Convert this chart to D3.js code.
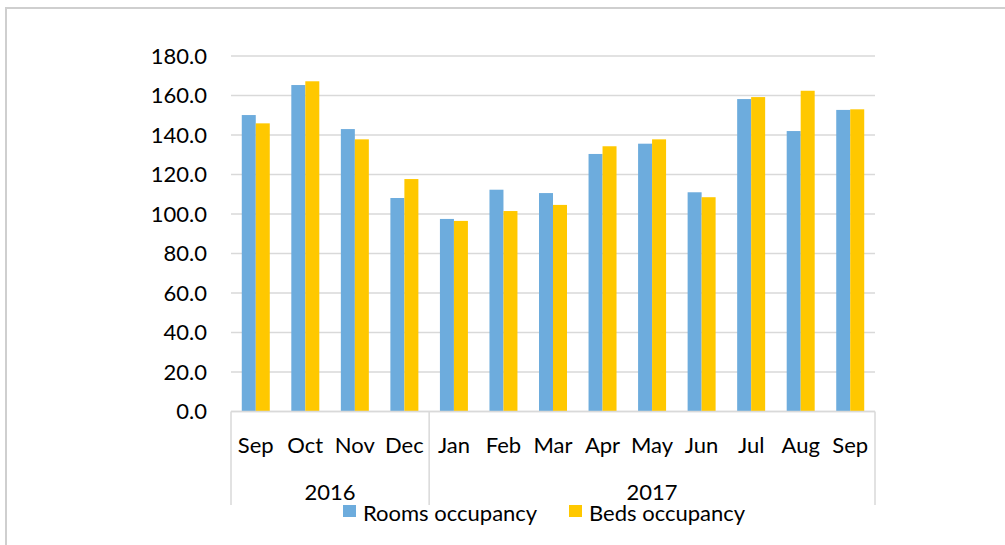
<!DOCTYPE html>
<meta charset="utf-8">
<head>
<style>
  body { margin: 0; background: #fff; }
  text { font-family: 'Lato', 'Open Sans', sans-serif; fill: #000; }
  .grid line { stroke: #d9d9d9; stroke-width: 1.5px; }
  .cat line { stroke: #d9d9d9; stroke-width: 1.5px; }
</style>
<title>Occupancy</title>
</head>
<body>
<svg id="chart" width="1005" height="545"></svg>
<script src="https://cdn.jsdelivr.net/npm/d3@7"></script>
<script>
// chart data
var months = ["Sep", "Oct", "Nov", "Dec", "Jan", "Feb", "Mar", "Apr", "May", "Jun", "Jul", "Aug", "Sep"];
var years = [{label: "2016", from: 0, to: 4}, {label: "2017", from: 4, to: 13}];
var rooms = [150.1, 165.3, 143.0, 108.1, 97.5, 112.3, 110.6, 130.4, 135.6, 111.0, 158.2, 142.0, 152.7];
var beds  = [145.9, 167.2, 137.8, 117.7, 96.5, 101.5, 104.6, 134.3, 137.8, 108.5, 159.2, 162.4, 153.0];
var seriesNames = ["Rooms occupancy", "Beds occupancy"];
var colors = ["#6dacdd", "#ffc800"];
var yTicks = [0, 20, 40, 60, 80, 100, 120, 140, 160, 180];

var svg = d3.select("#chart");
var plotLeft = 231, plotRight = 875, plotTop = 56, plotBottom = 411.5;

// outer frame (only left and top edges visible)
svg.append("rect")
    .attr("x", 6).attr("y", 8)
    .attr("width", 1100).attr("height", 600)
    .attr("fill", "none")
    .attr("stroke", "#cfcfcf")
    .attr("stroke-width", 2);

var y = d3.scaleLinear().domain([0, 180]).range([plotBottom, plotTop]);

var x = d3.scaleBand()
    .domain(d3.range(months.length))
    .range([plotLeft, plotRight])
    .paddingInner(0.435)
    .paddingOuter(0.2175);

var xs = d3.scaleBand().domain([0, 1]).range([0, x.bandwidth()]);

var step = x.step();
var catX = function(i) { return plotLeft + i * step; };

// gridlines
svg.append("g").attr("class", "grid")
  .selectAll("line")
  .data(yTicks)
  .enter().append("line")
    .attr("x1", plotLeft).attr("x2", plotRight)
    .attr("y1", function(d) { return y(d); })
    .attr("y2", function(d) { return y(d); });

// y labels
svg.append("g")
  .selectAll("text")
  .data(yTicks)
  .enter().append("text")
    .attr("x", 207)
    .attr("y", function(d) { return y(d); })
    .attr("dy", "0.35em")
    .attr("text-anchor", "end")
    .style("font-size", "22px")
    .text(function(d) { return d.toFixed(1); });

// bars
var series = [rooms, beds];
series.forEach(function(vals, s) {
  svg.append("g")
    .selectAll("rect")
    .data(vals)
    .enter().append("rect")
      .attr("x", function(d, i) { return x(i) + xs(s); })
      .attr("y", function(d) { return y(d); })
      .attr("width", xs.bandwidth())
      .attr("height", function(d) { return y(0) - y(d); })
      .attr("fill", colors[s]);
});

// category axis: baseline + group separators
var cat = svg.append("g").attr("class", "cat");
cat.append("line")
    .attr("x1", plotLeft).attr("x2", plotRight)
    .attr("y1", y(0)).attr("y2", y(0));
var seps = [0].concat(years.map(function(d) { return d.to; }));
cat.selectAll(".sep")
  .data(seps)
  .enter().append("line")
    .attr("class", "sep")
    .attr("x1", function(d) { return catX(d); })
    .attr("x2", function(d) { return catX(d); })
    .attr("y1", y(0)).attr("y2", 505);

svg.append("g")
  .selectAll("text")
  .data(months)
  .enter().append("text")
    .attr("x", function(d, i) { return x(i) + x.bandwidth() / 2; })
    .attr("y", 445)
    .attr("dy", "0.35em")
    .attr("text-anchor", "middle")
    .style("font-size", "22px")
    .text(function(d) { return d; });

svg.append("g")
  .selectAll("text")
  .data(years)
  .enter().append("text")
    .attr("x", function(d) { return (catX(d.from) + catX(d.to)) / 2; })
    .attr("y", 492)
    .attr("dy", "0.35em")
    .attr("text-anchor", "middle")
    .style("font-size", "22px")
    .text(function(d) { return d.label; });

// legend
var legendX = [343, 569];
var lg = svg.append("g")
  .selectAll("g")
  .data(seriesNames)
  .enter().append("g")
    .attr("transform", function(d, i) { return "translate(" + legendX[i] + ",505)"; });
lg.append("rect")
    .attr("width", 13).attr("height", 12)
    .attr("fill", function(d, i) { return colors[i]; });
lg.append("text")
    .attr("x", 20).attr("y", 8)
    .attr("dy", "0.35em")
    .style("font-size", "22px")
    .text(function(d) { return d; });
</script>
</body>
